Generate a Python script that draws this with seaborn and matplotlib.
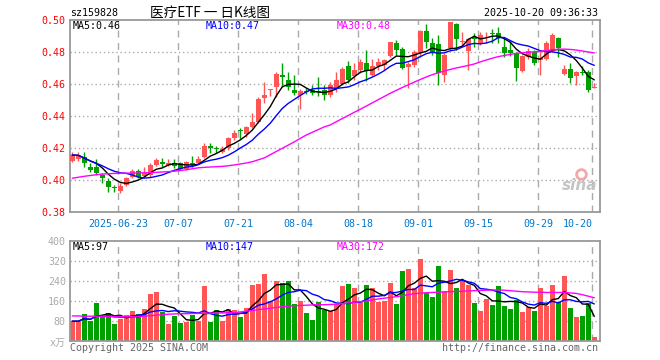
import matplotlib
matplotlib.use("Agg")
import matplotlib.pyplot as plt
import numpy as np
import pandas as pd
import seaborn as sns

# daily K data, sz159828
opens = [0.4123, 0.4131, 0.4144, 0.4085, 0.4085, 0.4033, 0.3998, 0.3960, 0.3935, 0.3971,
         0.4019, 0.4060, 0.4027, 0.4033, 0.4096, 0.4117, 0.4096, 0.4106, 0.4106, 0.4069,
         0.4106, 0.4106, 0.4144, 0.4215, 0.4200, 0.4180, 0.4200, 0.4263, 0.4315, 0.4290,
         0.4331, 0.4367, 0.4512, 0.4565, 0.4581, 0.4658, 0.4627, 0.4565, 0.4533, 0.4560,
         0.4563, 0.4560, 0.4565, 0.4533, 0.4577, 0.4604, 0.4717, 0.4650, 0.4688, 0.4733,
         0.4660, 0.4712, 0.4721, 0.4777, 0.4860, 0.4819, 0.4710, 0.4721, 0.4794, 0.4931,
         0.4856, 0.4850, 0.4660, 0.4825, 0.4977, 0.4863, 0.4806, 0.4898, 0.4856, 0.4912,
         0.4921, 0.4921, 0.4835, 0.4815, 0.4794, 0.4681, 0.4773, 0.4804, 0.4752, 0.4756,
         0.4810, 0.4888, 0.4665, 0.4694, 0.4652, 0.4679, 0.4679, 0.4579]
highs = [0.4179, 0.4179, 0.4179, 0.4106, 0.4131, 0.4048, 0.4013, 0.3971, 0.3981, 0.4023,
         0.4069, 0.4069, 0.4085, 0.4106, 0.4138, 0.4138, 0.4131, 0.4131, 0.4117, 0.4121,
         0.4152, 0.4152, 0.4231, 0.4231, 0.4215, 0.4215, 0.4273, 0.4315, 0.4325, 0.4340,
         0.4423, 0.4519, 0.4617, 0.4571, 0.4679, 0.4735, 0.4679, 0.4658, 0.4569, 0.4575,
         0.4596, 0.4648, 0.4596, 0.4617, 0.4679, 0.4710, 0.4744, 0.4733, 0.4758, 0.4815,
         0.4758, 0.4765, 0.4760, 0.4867, 0.4877, 0.4835, 0.4742, 0.4815, 0.4940, 0.4977,
         0.4888, 0.4908, 0.4794, 0.4992, 0.4981, 0.4929, 0.4888, 0.4919, 0.4925, 0.4929,
         0.4944, 0.4960, 0.4888, 0.4873, 0.4804, 0.4783, 0.4825, 0.4815, 0.4815, 0.4873,
         0.4919, 0.4898, 0.4721, 0.4731, 0.4685, 0.4715, 0.4690, 0.4606]
lows = [0.4117, 0.4123, 0.4085, 0.4054, 0.4033, 0.3981, 0.3929, 0.3929, 0.3923, 0.3965,
        0.4013, 0.4013, 0.4023, 0.4023, 0.4090, 0.4081, 0.4090, 0.4075, 0.4065, 0.4065,
        0.4085, 0.4100, 0.4138, 0.4169, 0.4169, 0.4169, 0.4190, 0.4252, 0.4256, 0.4273,
        0.4325, 0.4356, 0.4481, 0.4527, 0.4519, 0.4585, 0.4565, 0.4533, 0.4444, 0.4540,
        0.4533, 0.4527, 0.4502, 0.4523, 0.4550, 0.4596, 0.4608, 0.4629, 0.4671, 0.4619,
        0.4650, 0.4690, 0.4690, 0.4771, 0.4783, 0.4694, 0.4575, 0.4710, 0.4773, 0.4825,
        0.4783, 0.4596, 0.4617, 0.4815, 0.4815, 0.4835, 0.4690, 0.4835, 0.4845, 0.4860,
        0.4856, 0.4856, 0.4773, 0.4775, 0.4623, 0.4675, 0.4756, 0.4721, 0.4660, 0.4752,
        0.4802, 0.4773, 0.4658, 0.4606, 0.4596, 0.4658, 0.4554, 0.4575]
closes = [0.4158, 0.4154, 0.4106, 0.4065, 0.4048, 0.4013, 0.3960, 0.3950, 0.3965, 0.4013,
          0.4060, 0.4019, 0.4044, 0.4096, 0.4127, 0.4100, 0.4110, 0.4090, 0.4069, 0.4113,
          0.4096, 0.4131, 0.4215, 0.4200, 0.4194, 0.4198, 0.4263, 0.4298, 0.4310, 0.4331,
          0.4367, 0.4506, 0.4533, 0.4569, 0.4665, 0.4648, 0.4581, 0.4544, 0.4560, 0.4552,
          0.4548, 0.4552, 0.4533, 0.4596, 0.4627, 0.4694, 0.4629, 0.4688, 0.4737, 0.4681,
          0.4712, 0.4737, 0.4752, 0.4867, 0.4815, 0.4700, 0.4729, 0.4804, 0.4931, 0.4867,
          0.4804, 0.4669, 0.4783, 0.4992, 0.4881, 0.4867, 0.4881, 0.4881, 0.4908, 0.4917,
          0.4917, 0.4888, 0.4794, 0.4798, 0.4700, 0.4777, 0.4810, 0.4735, 0.4763, 0.4856,
          0.4908, 0.4825, 0.4694, 0.4637, 0.4679, 0.4673, 0.4565, 0.4585]
ma30_price = [0.4013, 0.4019, 0.4025, 0.4030, 0.4035, 0.4039, 0.4041, 0.4043, 0.4044, 0.4045,
              0.4045, 0.4046, 0.4047, 0.4048, 0.4050, 0.4052, 0.4054, 0.4057, 0.4061, 0.4066,
              0.4072, 0.4078, 0.4081, 0.4083, 0.4085, 0.4087, 0.4091, 0.4096, 0.4102, 0.4108,
              0.4116, 0.4128, 0.4140, 0.4160, 0.4180, 0.4200, 0.4220, 0.4240, 0.4262, 0.4283,
              0.4300, 0.4317, 0.4334, 0.4346, 0.4366, 0.4386, 0.4405, 0.4425, 0.4444, 0.4464,
              0.4484, 0.4504, 0.4524, 0.4544, 0.4562, 0.4580, 0.4597, 0.4614, 0.4630, 0.4646,
              0.4660, 0.4672, 0.4683, 0.4693, 0.4702, 0.4710, 0.4718, 0.4727, 0.4740, 0.4752,
              0.4763, 0.4773, 0.4780, 0.4787, 0.4793, 0.4797, 0.4800, 0.4803, 0.4806, 0.4810,
              0.4815, 0.4819, 0.4820, 0.4818, 0.4814, 0.4808, 0.4802, 0.4796]

# volume, in 万
volumes = [78, 78, 108, 78, 150, 96, 109, 65, 88, 101,
           118, 108, 128, 185, 193, 114, 65, 97, 70, 74,
           101, 80, 217, 74, 123, 80, 128, 122, 93, 130,
           224, 228, 268, 160, 239, 230, 239, 148, 158, 110,
           82, 155, 124, 117, 145, 218, 226, 210, 153, 222,
           210, 155, 158, 231, 145, 278, 286, 210, 328, 190,
           176, 297, 198, 281, 211, 241, 222, 152, 117, 165,
           141, 218, 137, 125, 161, 113, 133, 117, 211, 137,
           223, 155, 259, 129, 94, 97, 150, 15]
ma30_volume = [99, 99, 98, 98, 98, 98, 97, 97, 97, 96,
               96, 97, 98, 100, 102, 104, 106, 107, 108, 108,
               109, 109, 110, 110, 111, 111, 112, 112, 115, 118,
               121, 124, 127, 130, 133, 136, 138, 140, 141, 142,
               143, 144, 144, 145, 146, 148, 151, 154, 156, 159,
               163, 167, 170, 173, 176, 180, 184, 188, 190, 192,
               193, 194, 195, 196, 197, 198, 199, 200, 201, 202,
               203, 203, 202, 200, 198, 196, 195, 194, 194, 193,
               193, 193, 193, 191, 189, 184, 178, 172]

tick_idx = [8, 18, 28, 38, 48, 58, 68, 78, 87]
tick_labels = ["2025-06-23", "07-07", "07-21", "08-04", "08-18", "09-01", "09-15", "09-29", "10-20"]
price_ticks = [0.38, 0.40, 0.42, 0.44, 0.46, 0.48, 0.50]
volume_ticks = [80, 160, 240, 320, 400]

UP = "#ff5555"
DOWN = "#00a000"
GRID = "#aaaaaa"
BORDER = "#999999"

df = pd.DataFrame({"open": opens, "high": highs, "low": lows, "close": closes,
                   "vol": volumes, "ma30": ma30_price, "vma30": ma30_volume})
df["idx"] = np.arange(len(df))
df["ma5"] = df["close"].rolling(5, min_periods=1).mean()
df["ma10"] = df["close"].rolling(10, min_periods=1).mean()
df["vma5"] = df["vol"].rolling(5, min_periods=1).mean()
df["vma10"] = df["vol"].rolling(10, min_periods=1).mean()
df["color"] = np.where(df["close"] >= df["open"], UP, DOWN)

sns.set_theme(style="white")
plt.rcParams["font.family"] = ["DejaVu Sans Mono", "Noto Sans CJK SC"]
FS = 7.2

W, H = 660, 360
fig = plt.figure(figsize=(W / 100, H / 100), dpi=100)
ax1 = fig.add_axes([70 / W, 1 - 212.3 / H, 530 / W, 192 / H])
ax2 = fig.add_axes([70 / W, 1 - 340.7 / H, 530 / W, 100 / H])

# dashed date lines sit a bit left of the candle centre
line_pos = [i - 0.33 for i in tick_idx]

for ax in (ax1, ax2):
    ax.set_xlim(-0.38, 87.95)
    for s in ax.spines.values():
        s.set_color(BORDER)
        s.set_linewidth(1.3)
    for xp in line_pos:
        ax.axvline(xp, color=GRID, lw=1, ls=(0, (5, 4)), zorder=0)
    ax.tick_params(length=0)

# price panel
ax1.set_ylim(0.38, 0.50)
for yv in price_ticks[1:-1]:
    ax1.axhline(yv, color=GRID, lw=1, ls=(0, (1, 2)), zorder=0)

ax1.vlines(df["idx"], df["low"], df["high"], colors=df["color"], lw=1, zorder=2)
body = (df["close"] - df["open"]).abs().clip(lower=0.0005)
bottom = df[["open", "close"]].min(axis=1)
ax1.bar(df["idx"], body, bottom=bottom, width=0.78, color=df["color"], linewidth=0, zorder=3)

sns.lineplot(data=df, x="idx", y="ma5", ax=ax1, color="black", lw=1, zorder=4)
sns.lineplot(data=df, x="idx", y="ma10", ax=ax1, color="#0000ff", lw=1, zorder=4)
sns.lineplot(data=df, x="idx", y="ma30", ax=ax1, color="#ff00ff", lw=1, zorder=4)

ax1.set_yticks(price_ticks)
ax1.set_yticklabels([f"{v:.2f}" for v in price_ticks], color="#ff0000", fontsize=FS)
ax1.set_xticks(line_pos)
ax1.set_xticklabels(tick_labels, color="#0077cc", fontsize=FS)
ax1.get_xticklabels()[-1].set_horizontalalignment("right")
ax1.tick_params(axis="x", pad=5)
ax1.tick_params(axis="y", pad=3)
ax1.set_xlabel("")
ax1.set_ylabel("")

y_leg = 1 - 6 / 192
ax1.text(3 / 530, y_leg, f"MA5:{df['ma5'].iloc[-1]:.2f}", transform=ax1.transAxes,
         color="black", fontsize=FS, va="center")
ax1.text(136 / 530, y_leg, f"MA10:{df['ma10'].iloc[-1]:.2f}", transform=ax1.transAxes,
         color="#0000ff", fontsize=FS, va="center")
ax1.text(267 / 530, y_leg, f"MA30:{df['ma30'].iloc[-1]:.2f}", transform=ax1.transAxes,
         color="#ff00ff", fontsize=FS, va="center")

# sina watermark
ax1.plot([0.965], [0.2], transform=ax1.transAxes, marker="o", ms=7, mfc="none",
         mec="#f2a8a8", mew=2, zorder=1)
ax1.text(0.995, 0.14, "sina", transform=ax1.transAxes, ha="right", va="center",
         fontsize=11, fontstyle="italic", fontweight="bold", color="#c4c4c4",
         family="DejaVu Sans", zorder=1)

# volume panel
ax2.set_ylim(0, 400)
for yv in volume_ticks[:-1]:
    ax2.axhline(yv, color=GRID, lw=1, ls=(0, (1, 2)), zorder=0)
ax2.bar(df["idx"], df["vol"], width=0.83, color=df["color"], linewidth=0, zorder=2)
sns.lineplot(data=df, x="idx", y="vma5", ax=ax2, color="black", lw=1, zorder=4)
sns.lineplot(data=df, x="idx", y="vma10", ax=ax2, color="#0000ff", lw=1, zorder=4)
sns.lineplot(data=df, x="idx", y="vma30", ax=ax2, color="#ff00ff", lw=1, zorder=4)
ax2.set_yticks(volume_ticks)
ax2.set_yticklabels([str(v) for v in volume_ticks], color="#aaaaaa", fontsize=FS)
ax2.tick_params(axis="y", pad=3)
ax2.set_xticks([])
ax2.set_xlabel("")
ax2.set_ylabel("")

y_leg2 = 1 - 6 / 100
ax2.text(3 / 530, y_leg2, f"MA5:{df['vma5'].iloc[-1]:.0f}", transform=ax2.transAxes,
         color="black", fontsize=FS, va="center")
ax2.text(136 / 530, y_leg2, f"MA10:{df['vma10'].iloc[-1]:.0f}", transform=ax2.transAxes,
         color="#0000ff", fontsize=FS, va="center")
ax2.text(267 / 530, y_leg2, f"MA30:{df['vma30'].iloc[-1]:.0f}", transform=ax2.transAxes,
         color="#ff00ff", fontsize=FS, va="center")

# header / footer text
fig.text(70 / W, 1 - 13 / H, "sz159828", fontsize=FS, color="black", va="center")
fig.text(150 / W, 1 - 13 / H, "医疗ETF 一 日K线图", fontsize=9.8, color="black", va="center",
         family=["Noto Sans CJK SC", "DejaVu Sans"])
fig.text(598 / W, 1 - 13 / H, "2025-10-20 09:36:33", fontsize=FS, color="black",
         va="center", ha="right")
fig.text(66 / W, 1 - 343 / H, "x万", fontsize=FS, color="#aaaaaa", va="center", ha="right",
         family=["DejaVu Sans Mono", "Noto Sans CJK SC"])
fig.text(70 / W, 1 - 348 / H, "Copyright 2025 SINA.COM", fontsize=FS, color="#666666", va="center")
fig.text(598 / W, 1 - 348 / H, "http://finance.sina.com.cn", fontsize=FS, color="#666666",
         va="center", ha="right")

fig.savefig("out.png", dpi=100, facecolor="white")
